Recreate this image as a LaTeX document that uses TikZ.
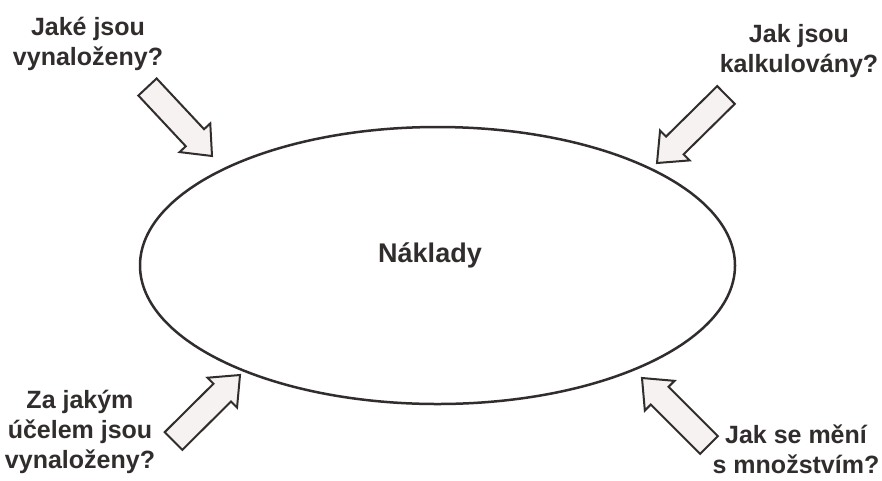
\documentclass[tikz,border=0pt]{standalone}
\usepackage{fontspec}
\setmainfont{Liberation Sans}
\usetikzlibrary{calc}
\definecolor{ink}{RGB}{50,45,45}
\definecolor{arrowfill}{RGB}{246,242,241}
\newcommand\blockarrow[2]{%
  \coordinate (#1h) at ($(#2)!25pt!(#1)$);
  \draw[barrow] ($(#1)!12.5pt!90:(#2)$) -- ($(#1h)!12.5pt!90:(#2)$) -- ($(#1h)!21pt!90:(#2)$)
    -- (#2) -- ($(#1h)!21pt!-90:(#2)$) -- ($(#1h)!12.5pt!-90:(#2)$) -- ($(#1)!12.5pt!-90:(#2)$) -- cycle;
}
\begin{document}
\begin{tikzpicture}[x=1pt,y=-1pt,
  barrow/.style={draw=ink,fill=arrowfill,line width=2pt,line join=miter},
  lbl/.style={text=ink,font=\fontsize{25}{30}\selectfont\bfseries,align=center,inner sep=0pt},
  oval/.style={draw=ink,line width=2.5pt}]
\useasboundingbox[fill=white] (0,0) rectangle (882,480);
% ellipse
\draw[oval] (437.5,265.5) ellipse [x radius=297.5, y radius=138.5];
\node[lbl,font=\fontsize{27}{30}\selectfont\bfseries] (main) at (430,255) {Náklady};
% labels
\node[lbl] (q1) at (88,44) {Jaké jsou\\vynaloženy?};
\node[lbl] (q2) at (799,51) {Jak jsou\\kalkulovány?};
\node[lbl] (q3) at (80,432) {Za jakým\\účelem jsou\\vynaloženy?};
\node[lbl] (q4) at (796,449) {Jak se mění\\s množstvím?};
% arrows
\coordinate (a1) at (147.5,87); \coordinate (b1) at (212,156);
\coordinate (a2) at (726,95);   \coordinate (b2) at (657,163);
\coordinate (a3) at (173.5,441); \coordinate (b3) at (240,375);
\coordinate (a4) at (709,445);  \coordinate (b4) at (642,378);
\blockarrow{a1}{b1}
\blockarrow{a2}{b2}
\blockarrow{a3}{b3}
\blockarrow{a4}{b4}
\end{tikzpicture}
\end{document}
